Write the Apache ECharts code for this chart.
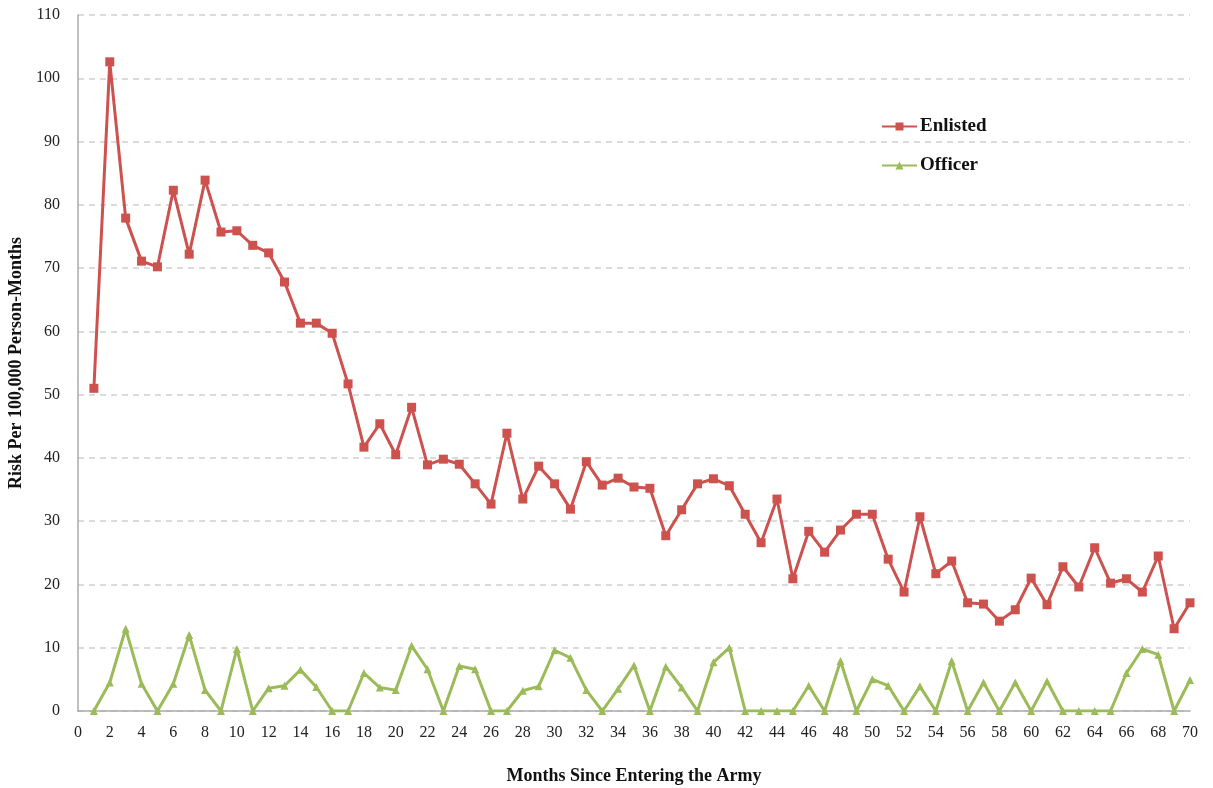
<!DOCTYPE html>
<html>
<head>
<meta charset="utf-8">
<script src="https://cdn.jsdelivr.net/npm/echarts@6/dist/echarts.min.js"></script>
<style>
  html, body { margin: 0; padding: 0; background: #fff; }
  #main { width: 1213px; height: 788px; }
</style>
</head>
<body>
<div id="main"></div>
<script>
// months 1..70
const months = Array.from({ length: 70 }, (_, i) => i + 1);

const enlisted = [
  51.0, 102.6, 77.9, 71.1, 70.2, 82.3, 72.2, 83.9, 75.7, 75.9,
  73.6, 72.4, 67.8, 61.3, 61.3, 59.7, 51.7, 41.7, 45.4, 40.5,
  48.0, 38.9, 39.8, 39.0, 35.9, 32.7, 43.9, 33.5, 38.7, 35.9,
  31.9, 39.4, 35.7, 36.8, 35.4, 35.2, 27.7, 31.8, 35.9, 36.7,
  35.6, 31.1, 26.6, 33.5, 20.9, 28.4, 25.1, 28.6, 31.1, 31.1,
  24.0, 18.8, 30.7, 21.7, 23.7, 17.1, 16.9, 14.2, 16.0, 21.0,
  16.8, 22.8, 19.6, 25.8, 20.2, 20.9, 18.8, 24.5, 13.0, 17.1
];

const officer = [
  0, 4.5, 13.0, 4.3, 0, 4.3, 12.0, 3.3, 0, 9.8,
  0, 3.6, 4.0, 6.5, 3.8, 0, 0, 6.0, 3.7, 3.3,
  10.3, 6.6, 0, 7.1, 6.6, 0, 0, 3.2, 3.9, 9.6,
  8.4, 3.3, 0, 3.5, 7.2, 0, 7.0, 3.7, 0, 7.7,
  10.0, 0, 0, 0, 0, 4.0, 0, 7.9, 0, 5.0,
  4.0, 0, 3.9, 0, 7.9, 0, 4.5, 0, 4.5, 0,
  4.7, 0, 0, 0, 0, 6.0, 9.8, 8.9, 0, 4.9
];

const RED = '#CD514D';
const GREEN = '#9BBB59';
const FONT = '"Liberation Serif", "DejaVu Serif", serif';

const chart = echarts.init(document.getElementById('main'));

chart.setOption({
  animation: false,
  backgroundColor: '#fff',
  textStyle: { fontFamily: FONT },
  grid: { left: 78, right: 23, top: 15, bottom: 77, containLabel: false, outerBoundsMode: 'none' },
  legend: {
    orient: 'vertical',
    left: 876,
    top: 112,
    itemWidth: 35,
    itemHeight: 10,
    itemGap: 20,
    textStyle: { fontFamily: FONT, fontSize: 19, fontWeight: 'bold', color: '#111', padding: [0, 0, 0, -2] },
    data: ['Enlisted', 'Officer']
  },
  xAxis: {
    type: 'value',
    min: 0,
    max: 70,
    interval: 2,
    name: 'Months Since Entering the Army',
    nameLocation: 'middle',
    nameGap: 56,
    nameTextStyle: { fontFamily: FONT, fontSize: 18, fontWeight: 'bold', color: '#111' },
    axisLine: { show: true, lineStyle: { color: '#aaa', width: 1.5 } },
    axisTick: { show: false },
    splitLine: { show: false },
    axisLabel: { fontFamily: FONT, fontSize: 16, color: '#222', margin: 14 }
  },
  yAxis: {
    type: 'value',
    min: 0,
    max: 110,
    interval: 10,
    name: 'Risk Per 100,000 Person-Months',
    nameLocation: 'middle',
    nameGap: 52,
    nameTextStyle: { fontFamily: FONT, fontSize: 18, fontWeight: 'bold', color: '#111' },
    axisLine: { show: true, lineStyle: { color: '#aaa', width: 1.5 } },
    axisTick: { show: false },
    splitLine: { show: true, lineStyle: { color: '#cfcfcf', type: [6, 5], width: 1.5 } },
    axisLabel: { fontFamily: FONT, fontSize: 16, color: '#222', margin: 18 }
  },
  series: [
    {
      name: 'Enlisted',
      type: 'line',
      data: months.map((m, i) => [m, enlisted[i]]),
      symbol: 'rect',
      symbolSize: 9,
      lineStyle: { color: RED, width: 3 },
      itemStyle: { color: RED },
      z: 3
    },
    {
      name: 'Officer',
      type: 'line',
      data: months.map((m, i) => [m, officer[i]]),
      symbol: 'triangle',
      symbolSize: 8,
      lineStyle: { color: GREEN, width: 3 },
      itemStyle: { color: GREEN },
      z: 2
    }
  ]
});
</script>
</body>
</html>
